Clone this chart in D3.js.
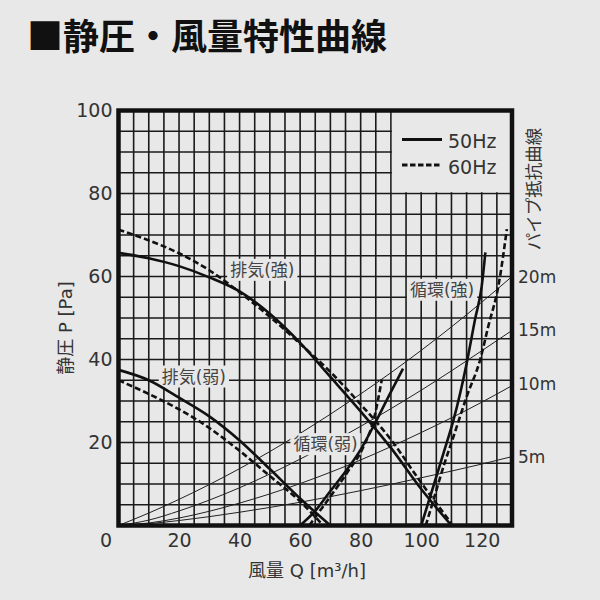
<!DOCTYPE html>
<html><head><meta charset="utf-8">
<script src="https://cdn.jsdelivr.net/npm/d3@7"></script>
<style>
body{margin:0;background:#e8e8e8;}
svg{display:block;}
text{font-family:"DejaVu Sans","Noto Sans CJK JP",sans-serif;}
</style></head><body>
<svg id="c" width="600" height="600"></svg>
<script>
// ---- data ----
const titleText = "■静圧・風量特性曲線";
const xTickValues = [0,20,40,60,80,100,120];
const yTickValues = [20,40,60,80,100];
const xTitle = "風量 Q [m³/h]";
const yTitle = "静圧 P [Pa]";
const pipeTitle = "パイプ抵抗曲線";
const pipeNames = ["5m","10m","15m","20m"];
const pipeQ   = [0,10,20,40,60,80,100,120,130];
const pipe5m  = [0,0.45,1.2,3.2,5.6,8.4,11.5,14.8,16.6];
const pipe10m = [0,0.6,1.8,5.4,10.1,15.8,22.4,29.7,33.7];
const pipe15m = [0,1.3,3.5,9.1,16.0,23.9,32.6,42.1,47];
const pipe20m = [0,3.0,6.3,13.7,22.2,31.7,42.2,53.8,60];
const pipeLabelP = [16.6,34,47,60];

const exhaustStrong50 = [[0,65.7],[10,64.4],[20,62.5],[30,59.8],[40,56.4],[50,51],[60,44],[70,35.8],[80,27.5],[90,18.7],[100,8.8],[110,0]];
const exhaustStrong60 = [[0,71.3],[10,68.7],[20,65.6],[30,61.5],[40,56.2],[50,50.3],[60,43.8],[70,37],[80,29.2],[90,20.7],[100,10.3],[110,0.5]];
const exhaustWeak50 = [[0,37.5],[10,35],[20,30.8],[30,26.3],[40,20.5],[50,13.6],[60,6.5],[70,0]];
const exhaustWeak60 = [[0,35],[10,31.7],[20,28],[30,23.5],[40,18],[50,11.9],[60,5.8],[67,0.5]];
const circWeak50 = [[60,0],[65,3.5],[70,8.3],[75,13],[80,18.3],[85,25],[90,32.2],[94,37.8]];
const circWeak60 = [[63,0],[67,4],[71,8],[75.5,12.7],[81,19.1],[84.3,25.5],[87,35.2]];
const circStrong50 = [[100,0],[104,9.4],[107.4,17.5],[110.7,25.5],[115,39],[117.8,49.7],[120,57.7],[121.2,65.8]];
const circStrong60 = [[101.5,0],[104,6],[107.4,14.3],[110.7,21.5],[115.1,31.2],[119.5,40],[122.2,48.1],[125.5,57.7],[128.3,71.4]];

const curveLabels = ["排気(強)","排気(弱)","循環(弱)","循環(強)"];
const curveLabelPos = [[47.5,61.6],[24.9,35.9],[68.4,19.6],[106.9,56.8]];
const legendNames = ["50Hz","60Hz"];

// ---- drawing ----
const BG = "#e8e8e8";
const svg = d3.select("#c");
const x = d3.scaleLinear().domain([0,130]).range([118.5,512]);
const y = d3.scaleLinear().domain([0,100]).range([525.5,110.5]);

svg.append("text").attr("x",27).attr("y",50)
  .style("font-family","'Noto Sans CJK JP'").attr("font-size",36).attr("font-weight",700)
  .attr("fill","#111").text(titleText);

// grid
const g = svg.append("g");
const gx = d3.range(5,130,5), gy = d3.range(5,100,5);
g.selectAll("line.v").data(gx).join("line").attr("class","v")
  .attr("x1",d=>x(d)).attr("x2",d=>x(d)).attr("y1",y(0)).attr("y2",y(100))
  .attr("stroke","#1a1a1a").attr("stroke-width",1.6);
g.selectAll("line.h").data(gy).join("line").attr("class","h")
  .attr("x1",x(0)).attr("x2",x(130)).attr("y1",d=>y(d)).attr("y2",d=>y(d))
  .attr("stroke","#1a1a1a").attr("stroke-width",1.6);
// legend box area
g.append("rect").attr("x",x(90)+1).attr("y",y(100)).attr("width",x(130)-x(90)-1)
  .attr("height",y(80)-y(100)-1.3).attr("fill",BG);

// pipe curves
const pipes = [pipe5m,pipe10m,pipe15m,pipe20m];
const line = d3.line().x(d=>x(d[0])).y(d=>y(d[1])).curve(d3.curveMonotoneX);
pipes.forEach(p=>{
  svg.append("path").datum(pipeQ.map((q,i)=>[q,p[i]])).attr("d",line)
    .attr("fill","none").attr("stroke","#222").attr("stroke-width",1);
});

// curve labels with background
curveLabels.forEach((t,i)=>{
  const gg = svg.append("g");
  const tx = gg.append("text").attr("x",x(curveLabelPos[i][0])).attr("y",y(curveLabelPos[i][1]))
    .attr("text-anchor","middle").attr("dominant-baseline","central")
    .attr("font-size",17).attr("fill","#444").text(t);
  const b = tx.node().getBBox();
  gg.insert("rect","text").attr("x",b.x-3).attr("y",b.y-1).attr("width",b.width+6).attr("height",b.height+2).attr("fill",BG);
});

// fan curves
const solids = [exhaustStrong50,exhaustWeak50,circWeak50,circStrong50];
const dashes = [exhaustStrong60,exhaustWeak60,circWeak60,circStrong60];
solids.forEach(s=>svg.append("path").datum(s).attr("d",line).attr("fill","none")
  .attr("stroke","#111").attr("stroke-width",2.6));
dashes.forEach(s=>svg.append("path").datum(s).attr("d",line).attr("fill","none")
  .attr("stroke","#111").attr("stroke-width",2.6).attr("stroke-dasharray","6,3"));

// frame
svg.append("rect").attr("x",x(0)).attr("y",y(100)).attr("width",x(130)-x(0)).attr("height",y(0)-y(100))
  .attr("fill","none").attr("stroke","#111").attr("stroke-width",4.5);

// axes
const ax = svg.append("g").attr("transform",`translate(0,${y(0)})`)
  .call(d3.axisBottom(x).tickValues(xTickValues).tickSize(0).tickPadding(8));
ax.select(".domain").remove();
ax.selectAll("text").attr("font-size",19).attr("fill","#333")
  .style("font-family","'DejaVu Sans'").attr("dx",d=>d===0?-13:0);
const ay = svg.append("g").attr("transform",`translate(${x(0)},0)`)
  .call(d3.axisLeft(y).tickValues(yTickValues).tickSize(0).tickPadding(6));
ay.select(".domain").remove();
ay.selectAll("text").attr("font-size",19).attr("fill","#333").style("font-family","'DejaVu Sans'");

// axis titles
svg.append("text").attr("x",307).attr("y",570).attr("text-anchor","middle").attr("dominant-baseline","central")
  .attr("font-size",18).attr("fill","#333").text(xTitle);
svg.append("text").attr("transform","translate(65,328) rotate(-90)").attr("text-anchor","middle")
  .attr("dominant-baseline","central").attr("font-size",18).attr("fill","#333").text(yTitle);

// right side
svg.append("text").attr("transform","translate(532,189) rotate(-90)").attr("text-anchor","middle")
  .attr("dominant-baseline","central").attr("font-size",17.5).attr("fill","#333")
  .style("font-family","'Noto Sans CJK JP'").text(pipeTitle);
pipeNames.forEach((n,i)=>{
  svg.append("text").attr("x",518).attr("y",y(pipeLabelP[i])).attr("dominant-baseline","central")
    .attr("font-size",17).attr("fill","#333").text(n);
});

// legend
legendNames.forEach((n,i)=>{
  const yy = 139.5 + i*25.5;
  svg.append("line").attr("x1",402).attr("x2",442).attr("y1",yy).attr("y2",yy)
    .attr("stroke","#111").attr("stroke-width",2.8).attr("stroke-dasharray",i?"5.5,2.5":null);
  svg.append("text").attr("x",448).attr("y",yy+1.5).attr("dominant-baseline","central")
    .attr("font-size",19).attr("fill","#333").text(n);
});
</script></body></html>
